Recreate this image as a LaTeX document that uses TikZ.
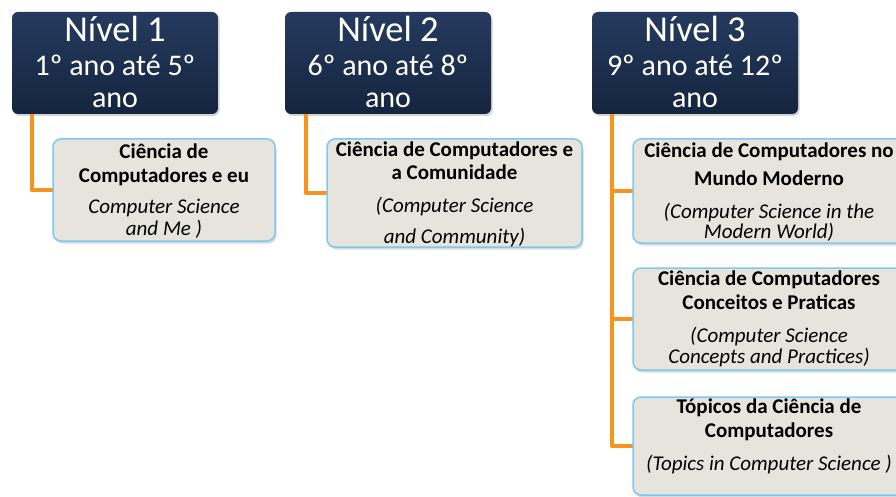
\documentclass[tikz,border=0pt]{standalone}
\usepackage{fontspec}
\setmainfont{Carlito}
\usetikzlibrary{positioning,shadows}
\definecolor{navy}{HTML}{15253F}
\definecolor{navytop}{HTML}{253A5E}
\definecolor{branchcol}{HTML}{F7941D}
\definecolor{cardfill}{HTML}{E6E4DD}
\definecolor{cardline}{HTML}{7CC9EF}
\tikzset{
  nivel/.style={
    draw=none, rounded corners=6pt,
    top color=navytop, bottom color=navy,
    minimum width=206pt, minimum height=102pt,
    drop shadow={shadow xshift=1.5pt, shadow yshift=-2pt, opacity=.35}},
  nivtitle/.style={text=white, inner sep=0pt, anchor=base,
    font=\fontsize{36.5}{38}\selectfont},
  nivsub/.style={text=white, inner sep=0pt, anchor=base, align=center,
    font=\fontsize{30}{32}\selectfont},
  card/.style={
    fill=cardfill, draw=cardline, line width=1.5pt, rounded corners=8pt,
    minimum width=272pt,
    drop shadow={shadow xshift=1.5pt, shadow yshift=-2.5pt, opacity=.3}},
  cardtext/.style={inner sep=0pt, anchor=base, align=center,
    font=\fontsize{21}{24}\selectfont},
  branch/.style={draw=branchcol, line width=4.5pt, line join=round}
}
\begin{document}
\begin{tikzpicture}[x=1pt,y=-1pt]
  \useasboundingbox (0,0) rectangle (896,497);
  \clip (0,0) rectangle (896,497);

  % levels
  \node[nivel] (n1) at (115,63) {};
  \node[nivel] (n2) at (388,63) {};
  \node[nivel] (n3) at (695,63) {};
  \node[nivtitle] (n1t) at (115,42) {Nível 1};
  \node[nivtitle] (n2t) at (388,42) {Nível 2};
  \node[nivtitle] (n3t) at (695,42) {Nível 3};
  % multi-line text: base = last line
  \node[nivsub] (n1s) at (115,108) {1º ano até 5º\\ano};
  \node[nivsub] (n2s) at (388,108) {6º ano até 8º\\ano};
  \node[nivsub] (n3s) at (695,108) {9º ano até 12º\\ano};

  % connectors
  \draw[branch] ([xshift=20pt]n1.south west) |- (164,190) coordinate (b1);
  \draw[branch] ([xshift=21pt]n2.south west) |- (454,193) coordinate (b2);
  \draw[branch] ([xshift=20pt]n3.south west) |- (769,446) coordinate (b5);
  \draw[branch] ([xshift=20pt]n3.south west) |- (769,191) coordinate (b3);
  \draw[branch] ([xshift=20pt]n3.south west) |- (769,319) coordinate (b4);

  % courses
  \node[card, minimum width=222pt, minimum height=102pt] (c1) at (164,190) {};
  \node[card, minimum width=255pt, minimum height=108pt] (c2) at (454.5,193) {};
  \node[card, minimum height=104pt] (c3) at (769,191) {};
  \node[card, minimum height=102pt] (c4) at (769,319) {};
  \node[card, minimum height=98pt] (c5) at (769,446) {};

  \node[cardtext] (c1t) at (164,235)
    {\textbf{Ciência de}\\\textbf{Computadores e eu}\\[7pt]
     \textit{Computer Science}\\[-2pt]\textit{and Me )}};
  \node[cardtext] (c2t) at (454.5,243)
    {\textbf{Ciência de Computadores e}\\[-1pt]\textbf{a Comunidade}\\[8pt]
     \textit{(Computer Science}\\[7pt]\textit{and Community)}};
  \node[cardtext] (c3t) at (769,238)
    {\textbf{Ciência de Computadores no}\\[4pt]\textbf{Mundo Moderno}\\[9pt]
     \textit{(Computer Science in the}\\[-4pt]\textit{Modern World)}};
  \node[cardtext] (c4t) at (769,363)
    {\textbf{Ciência de Computadores}\\\textbf{Conceitos e Praticas}\\[9pt]
     \textit{(Computer Science}\\[-3pt]\textit{Concepts and Practices)}};
  \node[cardtext] (c5t) at (769,470)
    {\textbf{Tópicos da Ciência de}\\\textbf{Computadores}\\[9pt]
     \textit{(Topics in Computer Science )}};
\end{tikzpicture}
\end{document}
